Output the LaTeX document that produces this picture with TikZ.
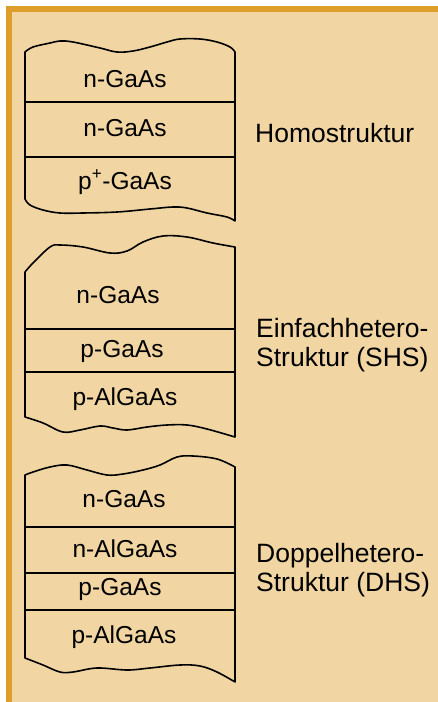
\documentclass[tikz,border=0pt]{standalone}
\usepackage{fontspec}
\setmainfont{Liberation Sans}
\definecolor{panel}{RGB}{241,214,163}
\definecolor{framecol}{RGB}{221,158,44}
\tikzset{
  layer/.style={anchor=base, inner sep=0pt, font=\fontsize{24.5}{29}\selectfont},
  sidelabel/.style={anchor=base west, inner sep=0pt, font=\fontsize{26.5}{29}\selectfont},
  outline/.style={line width=1.6pt, line join=round},
  sepline/.style={line width=1.6pt},
  wave/.style={smooth, tension=0.6},
}
\begin{document}
\begin{tikzpicture}[x=1pt,y=-1pt]
\useasboundingbox (0,0) rectangle (438,702);
% background with framed panel
\fill[white] (0,0) rectangle (438,702);
\fill[framecol] (6,6) rectangle (438,702);
\fill[panel] (12,12) rectangle (438,702);

% ---- Homostruktur ----
\draw[outline] plot[wave] coordinates {(25,52) (33,47) (50,43) (60,41) (73,42) (100,48) (117,52) (133,51) (150,47) (167,42) (180,39) (200,39) (217,42) (230,47) (235,52)}
  -- plot[wave] coordinates {(235,221) (227,217) (207,213) (187,208) (173,207) (150,209) (117,212) (83,213) (60,213) (43,210) (30,205) (25,199)}
  -- cycle;
\draw[sepline] (25,102) -- (235,102);
\draw[sepline] (25,157) -- (235,157);
\node[layer] (h1) at (125,87) {n-GaAs};
\node[layer] (h2) at (125,136) {n-GaAs};
\node[layer] (h3) at (125,189) {p\textsuperscript{+}-GaAs};
\node[sidelabel] (homo) at (255,142) {Homostruktur};

% ---- Einfachhetero-Struktur ----
\draw[outline] plot[wave] coordinates {(25,272) (33,263) (50,247) (60,245) (83,247) (110,253) (127,251) (143,242) (163,236) (187,237) (213,243) (235,247)}
  -- plot[wave] coordinates {(235,437) (207,429) (187,425) (167,425) (147,427) (127,430) (113,428) (100,426) (80,430) (63,432) (43,423) (25,417)}
  -- cycle;
\draw[sepline] (25,329) -- (235,329);
\draw[sepline] (25,372) -- (235,372);
\node[layer] (s1) at (118,303) {n-GaAs};
\node[layer] (s2) at (122,357) {p-GaAs};
\node[layer] (s3) at (125,405) {p-AlGaAs};
\node[sidelabel] (shsA) at (256,337) {Einfachhetero-};
\node[sidelabel] (shsB) at (256,366) {Struktur (SHS)};

% ---- Doppelhetero-Struktur ----
\draw[outline] plot[wave] coordinates {(25,475) (33,472) (50,467) (67,465) (87,470) (107,475) (123,474) (143,470) (160,465) (177,457) (193,456) (217,459) (235,467)}
  -- plot[wave] coordinates {(235,682) (217,672) (200,666) (180,665) (150,668) (127,670) (97,668) (73,672) (60,672) (43,665) (25,658)}
  -- cycle;
\draw[sepline] (25,527) -- (235,527);
\draw[line width=2.6pt] (25,573) -- (235,573);
\draw[sepline] (25,610) -- (235,610);
\node[layer] (d1) at (124,507) {n-GaAs};
\node[layer] (d2) at (125,557) {n-AlGaAs};
\node[layer] (d3) at (120,595) {p-GaAs};
\node[layer] (d4) at (124,643) {p-AlGaAs};
\node[sidelabel] (dhsA) at (256,562) {Doppelhetero-};
\node[sidelabel] (dhsB) at (256,591) {Struktur (DHS)};
\end{tikzpicture}
\end{document}
